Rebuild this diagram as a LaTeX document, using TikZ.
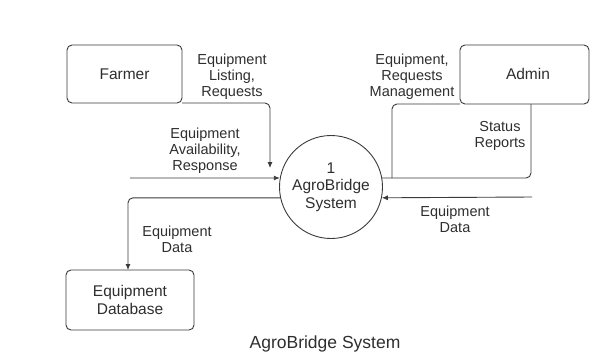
\documentclass[tikz,border=0pt]{standalone}
\usepackage{fontspec}
\setmainfont{Liberation Sans}
\usetikzlibrary{arrows.meta}
\definecolor{ink}{HTML}{3A3A3A}
\definecolor{txt}{HTML}{2E2E2E}
\tikzset{
  entity/.style={draw=ink, line width=0.9pt, rounded corners=5pt},
  proc/.style={draw=ink, line width=0.9pt, circle, minimum size=103pt, inner sep=0pt},
  flow/.style={draw=ink, line width=0.9pt, rounded corners=5pt},
  flowa/.style={flow, -{Latex[length=6pt,width=5pt]}},
  lbl/.style={text=txt, font=\fontsize{14.5}{16}\selectfont, align=center, inner sep=0pt},
  elbl/.style={text=txt, font=\fontsize{15.5}{17.5}\selectfont, align=center, inner sep=0pt},
}
\begin{document}
\begin{tikzpicture}[x=1pt,y=-1pt]
\useasboundingbox (0,0) rectangle (591,354);
% entities
\draw[entity] (67,45) rectangle (182,103);
\node[elbl] (farmer) at (124.5,74) {Farmer};
\coordinate (farmerSE) at (182,103);
\draw[entity] (460,45) rectangle (589,104);
\node[elbl] (admin) at (528,74) {Admin};
\coordinate (adminSW) at (460,104);
\coordinate (adminS) at (531,104);
\draw[entity] (66,270) rectangle (194,330);
\node[elbl] (db) at (130,300) {Equipment\\Database};
\coordinate (dbN) at (128,270);
% process
\node[proc] (p) at (331,187) {};
\node[elbl] (plabel) at (331,187) {1\\AgroBridge\\System};
% free ends
\coordinate (fin) at (270,168);
\coordinate (lin) at (130,178);
\coordinate (rin) at (532,197);
\coordinate (mgmtcorner) at (392,104);
% connectors
\draw[flowa] (farmerSE) -- (270,103) -- (fin);
\draw[flowa] (lin) -- (p.170);
\draw[flowa] (p.192) -| (dbN);
\draw[flowa] (rin) -- (p.-12);
\draw[flow] (adminSW) -- (mgmtcorner) -- (392,178.2);
\draw[flow] (p.10) -- (531,178) -- (adminS);
% labels
\node[lbl] (l1) at (232,77) {Equipment\\Listing,\\Requests};
\node[lbl] (l2) at (205,151) {Equipment\\Availability,\\Response};
\node[lbl] (l3) at (412,77) {Equipment,\\Requests\\Management};
\node[lbl] (l4) at (500,136) {Status\\Reports};
\node[lbl] (l5) at (177,239) {Equipment\\Data};
\node[lbl] (l6) at (455,219) {Equipment\\Data};
\node[lbl, font=\fontsize{17.5}{19}\selectfont] (title) at (325,344) {AgroBridge System};
\end{tikzpicture}
\end{document}
